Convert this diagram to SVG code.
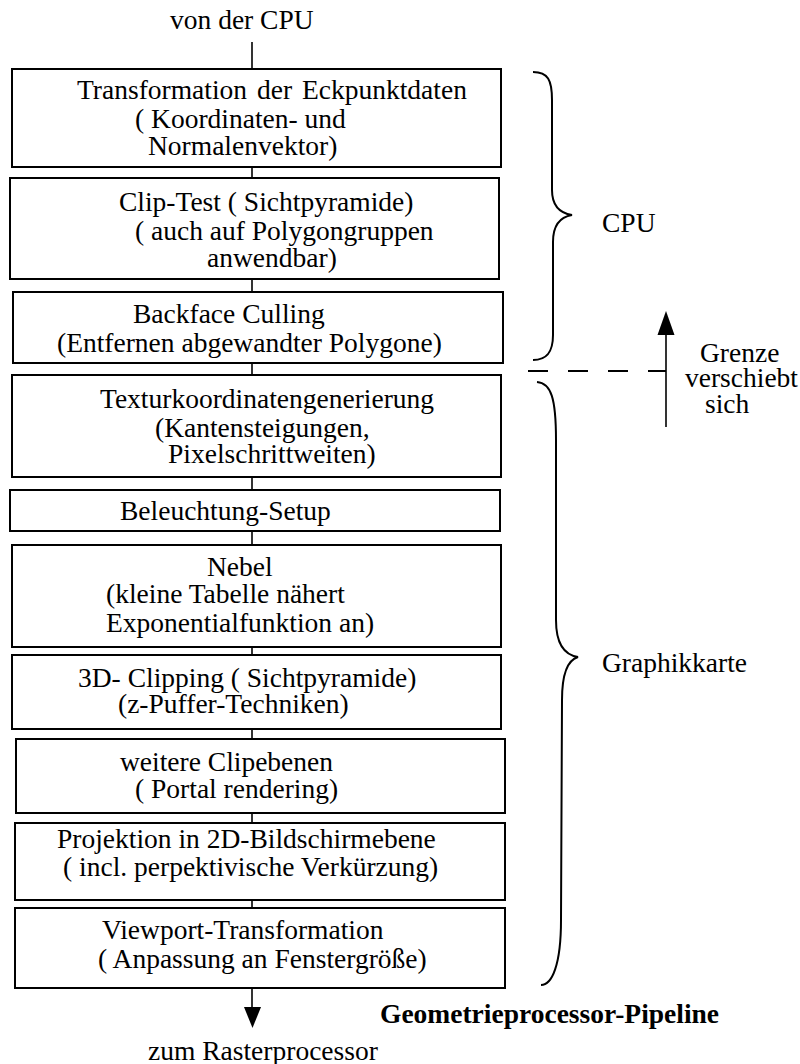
<svg xmlns="http://www.w3.org/2000/svg" width="800" height="1064" viewBox="0 0 800 1064">
  <style>
    text { font-family: "Liberation Serif", "Times New Roman", serif; font-size: 27.5px; fill: #000; }
    .bold { font-weight: bold; }
    .box { fill: #fff; stroke: #000; stroke-width: 2; }
    .link { stroke: #000; stroke-width: 1.6; fill: none; }
    .brace { stroke: #000; stroke-width: 2; fill: none; }
    .dash { stroke: #000; stroke-width: 2; stroke-dasharray: 20 20; fill: none; }
    .head { fill: #000; stroke: none; }
  </style>
  <rect width="800" height="1064" fill="#fff"/>

  <!-- connectors between the pipeline stages -->
  <g id="connectors">
    <line class="link" x1="252" y1="42" x2="252" y2="69"/>
    <line class="link" x1="252" y1="167" x2="252" y2="178"/>
    <line class="link" x1="252" y1="279" x2="252" y2="292"/>
    <line class="link" x1="252" y1="363" x2="252" y2="375"/>
    <line class="link" x1="252" y1="477" x2="252" y2="490"/>
    <line class="link" x1="252" y1="531" x2="252" y2="545"/>
    <line class="link" x1="252" y1="647" x2="252" y2="655"/>
    <line class="link" x1="252" y1="729" x2="252" y2="739"/>
    <line class="link" x1="252" y1="813" x2="252" y2="823"/>
    <line class="link" x1="252" y1="900" x2="252" y2="908"/>
    <line class="link" x1="252" y1="988" x2="252" y2="1008"/>
    <polygon class="head" points="244,1007 261,1007 252.5,1028"/>
  </g>

  <g id="label-in"><text x="170" y="29">von der CPU</text></g>

  <g id="stage-transform">
    <rect class="box" x="12" y="69" width="489" height="98"/>
    <text x="77" y="99" word-spacing="3">Transformation der Eckpunktdaten</text>
    <text x="135" y="128">( Koordinaten- und</text>
    <text x="148" y="155">Normalenvektor)</text>
  </g>

  <g id="stage-cliptest">
    <rect class="box" x="10" y="178" width="489" height="101"/>
    <text x="119" y="211">Clip-Test ( Sichtpyramide)</text>
    <text x="135" y="240">( auch auf Polygongruppen</text>
    <text x="207" y="267">anwendbar)</text>
  </g>

  <g id="stage-backface">
    <rect class="box" x="13" y="292" width="490" height="71"/>
    <text x="133" y="323">Backface Culling</text>
    <text x="57" y="352">(Entfernen abgewandter Polygone)</text>
  </g>

  <g id="stage-texcoord">
    <rect class="box" x="12" y="375" width="489" height="102"/>
    <text x="100" y="408">Texturkoordinatengenerierung</text>
    <text x="155" y="437">(Kantensteigungen,</text>
    <text x="168" y="463">Pixelschrittweiten)</text>
  </g>

  <g id="stage-lighting">
    <rect class="box" x="10" y="490" width="490" height="41"/>
    <text x="120" y="520">Beleuchtung-Setup</text>
  </g>

  <g id="stage-fog">
    <rect class="box" x="12" y="545" width="489" height="102"/>
    <text x="207" y="576">Nebel</text>
    <text x="106" y="603">(kleine Tabelle nähert</text>
    <text x="106" y="632">Exponentialfunktion an)</text>
  </g>

  <g id="stage-clipping">
    <rect class="box" x="12" y="655" width="489" height="74"/>
    <text x="78" y="687">3D- Clipping ( Sichtpyramide)</text>
    <text x="118" y="713">(z-Puffer-Techniken)</text>
  </g>

  <g id="stage-clipplanes">
    <rect class="box" x="16" y="739" width="489" height="74"/>
    <text x="120" y="771">weitere Clipebenen</text>
    <text x="135" y="798">( Portal rendering)</text>
  </g>

  <g id="stage-projection">
    <rect class="box" x="15" y="823" width="490" height="77"/>
    <text x="57" y="848">Projektion in 2D-Bildschirmebene</text>
    <text x="63" y="876">( incl. perpektivische Verkürzung)</text>
  </g>

  <g id="stage-viewport">
    <rect class="box" x="15" y="908" width="490" height="80"/>
    <text x="102" y="939">Viewport-Transformation</text>
    <text x="98" y="968">( Anpassung an Fenstergröße)</text>
  </g>

  <g id="label-out"><text x="148" y="1060">zum Rasterprocessor</text></g>

  <g id="title"><text class="bold" x="380" y="1023">Geometrieprocessor-Pipeline</text></g>

  <!-- CPU group -->
  <g id="group-cpu">
    <path class="brace" d="M533 72 C548 72 552 80 552 100 L552 190 C552 205 559 213 572 215 C560 217 553 226 553 242 L553 335 C553 352 547 360 533 360"/>
    <text x="602" y="232">CPU</text>
  </g>

  <!-- Graphics card group -->
  <g id="group-gpu">
    <path class="brace" d="M537 382 C551 383 556 398 556 440 L556 620 C556 645 565 655 578 657 C568 660 562 672 562 700 L561 920 C561 965 552 985 541 985"/>
    <text x="602" y="672">Graphikkarte</text>
  </g>

  <!-- shifting boundary -->
  <g id="boundary">
    <line class="dash" x1="528" y1="371" x2="666" y2="371"/>
    <line class="link" x1="666" y1="427" x2="666" y2="333"/>
    <polygon class="head" points="666,311 657.5,335 674.5,335"/>
    <text x="700" y="362">Grenze</text>
    <text x="685" y="387">verschiebt</text>
    <text x="705" y="413">sich</text>
  </g>
</svg>
